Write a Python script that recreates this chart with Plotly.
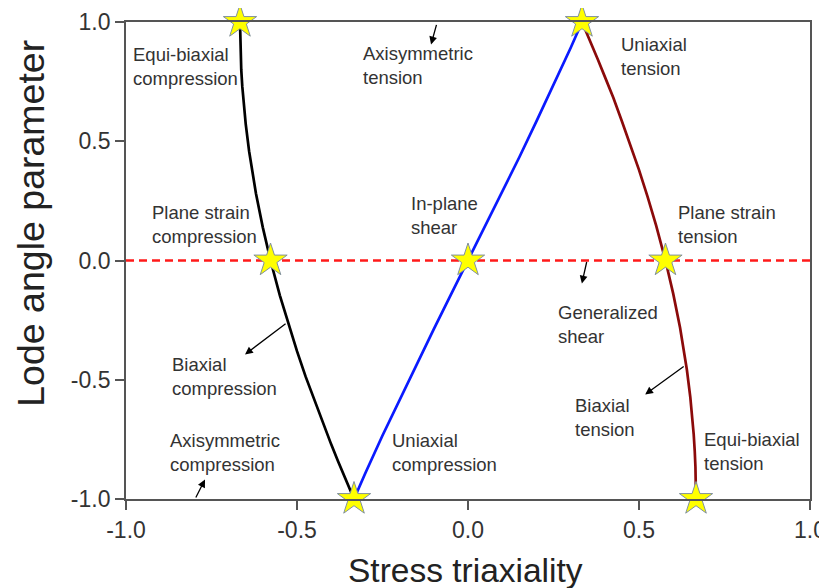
import plotly.graph_objects as go

# ---- data ----
black_eta = [-0.6667, -0.665, -0.663, -0.66, -0.655, -0.65, -0.64, -0.63, -0.62, -0.60, -0.5774,
             -0.55, -0.525, -0.50, -0.475, -0.45, -0.425, -0.40, -0.38, -0.36, -0.35, -0.34, -0.3333]
black_lode = [1.0, 0.865, 0.800, 0.730, 0.642, 0.573, 0.458, 0.364, 0.281, 0.139, 0.0,
              -0.147, -0.268, -0.380, -0.486, -0.584, -0.682, -0.771, -0.842, -0.911, -0.944, -0.978, -1.0]

blue_eta = [-0.3333, -0.32, -0.3, -0.25, -0.2, -0.15, -0.1, -0.05, 0.0,
            0.05, 0.1, 0.15, 0.2, 0.25, 0.3, 0.32, 0.3333]
blue_lode = [-1.0, -0.956, -0.891, -0.734, -0.583, -0.433, -0.288, -0.143, 0.0,
             0.143, 0.288, 0.433, 0.583, 0.734, 0.891, 0.956, 1.0]

red_eta = [0.3333, 0.34, 0.35, 0.36, 0.38, 0.40, 0.425, 0.45, 0.475, 0.50, 0.525, 0.55, 0.5774,
           0.60, 0.62, 0.63, 0.64, 0.65, 0.655, 0.66, 0.663, 0.665, 0.6667]
red_lode = [1.0, 0.978, 0.944, 0.911, 0.842, 0.771, 0.682, 0.584, 0.486, 0.380, 0.268, 0.147, 0.0,
            -0.139, -0.281, -0.364, -0.458, -0.573, -0.642, -0.730, -0.800, -0.865, -1.0]

zero_eta = [-1.0, 1.0]
zero_lode = [0.0, 0.0]

star_eta = [-0.6667, -0.5774, -0.3333, 0.0, 0.3333, 0.5774, 0.6667]
star_lode = [1.0, 0.0, -1.0, 0.0, 1.0, 0.0, -1.0]

tick_vals = [-1.0, -0.5, 0.0, 0.5, 1.0]
tick_text = ["-1.0", "-0.5", "0.0", "0.5", "1.0"]

x_title = "Stress triaxiality"
y_title = "Lode angle parameter"

labels = [
    ("Equi-biaxial<br>compression", -0.985, 0.813),
    ("Axisymmetric<br>tension", -0.313, 0.816),
    ("Uniaxial<br>tension", 0.442, 0.855),
    ("Plane strain<br>compression", -0.930, 0.151),
    ("In-plane<br>shear", -0.173, 0.189),
    ("Plane strain<br>tension", 0.608, 0.151),
    ("Generalized<br>shear", 0.257, -0.270),
    ("Biaxial<br>compression", -0.871, -0.486),
    ("Axisymmetric<br>compression", -0.877, -0.805),
    ("Uniaxial<br>compression", -0.228, -0.805),
    ("Biaxial<br>tension", 0.307, -0.658),
    ("Equi-biaxial<br>tension", 0.684, -0.799),
]

# arrows: (tail_x, tail_y, head_x, head_y)
arrows = [
    (-0.091, 0.994, -0.108, 0.906),
    (0.348, 0.0, 0.333, -0.096),
    (-0.529, -0.26, -0.652, -0.394),
    (-0.798, -1.0, -0.769, -0.918),
    (0.635, -0.44, 0.518, -0.562),
]

FONT = "Liberation Sans, Arial, sans-serif"

fig = go.Figure()
fig.add_trace(go.Scatter(x=zero_eta, y=zero_lode, mode="lines",
                         line=dict(color="#ff1a1a", width=2.5, dash="8px,5px"),
                         showlegend=False, hoverinfo="skip"))
fig.add_trace(go.Scatter(x=black_eta, y=black_lode, mode="lines",
                         line=dict(color="black", width=2.7), showlegend=False, cliponaxis=False))
fig.add_trace(go.Scatter(x=blue_eta, y=blue_lode, mode="lines",
                         line=dict(color="#0a1aff", width=2.7), showlegend=False, cliponaxis=False))
fig.add_trace(go.Scatter(x=red_eta, y=red_lode, mode="lines",
                         line=dict(color="#8b0a0a", width=2.7), showlegend=False, cliponaxis=False))
fig.add_trace(go.Scatter(x=star_eta, y=star_lode, mode="markers",
                         marker=dict(symbol="star", size=25, color="#ffff00",
                                     line=dict(color="#7f8fa0", width=1)),
                         showlegend=False, cliponaxis=False))

annotations = []
for text, x, y in labels:
    annotations.append(dict(text=text, x=x, y=y, xref="x", yref="y", showarrow=False,
                            xanchor="left", yanchor="middle", align="left",
                            font=dict(family=FONT, size=18.5, color="#333333")))
for tx, ty, hx, hy in arrows:
    annotations.append(dict(text="", x=hx, y=hy, ax=tx, ay=ty, xref="x", yref="y",
                            axref="x", ayref="y", showarrow=True, arrowhead=2,
                            arrowsize=1.2, arrowwidth=1.3, arrowcolor="black"))

annotations.append(dict(text=x_title, x=0.497, y=-0.149, xref="paper", yref="paper",
                        showarrow=False, xanchor="center", yanchor="middle",
                        font=dict(family=FONT, size=33.5, color="#222222")))
annotations.append(dict(text=y_title, x=-0.139, y=0.579, xref="paper", yref="paper",
                        showarrow=False, xanchor="center", yanchor="middle", textangle=-90,
                        font=dict(family=FONT, size=37.5, color="#222222")))

axis_common = dict(showline=True, mirror=True, linecolor="#555555", linewidth=1.8,
                   ticks="outside", ticklen=9, tickwidth=1.5, tickcolor="#555555",
                   showgrid=False, zeroline=False, automargin=False,
                   ticklabeloverflow="allow",
                   tickfont=dict(family=FONT, size=23, color="#333333"),
                   tickvals=tick_vals, ticktext=tick_text)

# the page body adds a small offset, so the figure is sized/margined to compensate
fig.update_layout(
    width=819, height=580,
    margin=dict(l=118, r=17, t=14, b=89),
    paper_bgcolor="white", plot_bgcolor="white",
    xaxis=dict(range=[-1, 1], **axis_common),
    yaxis=dict(range=[-1, 1], **axis_common),
    annotations=annotations,
)

fig.write_html("out.html")
